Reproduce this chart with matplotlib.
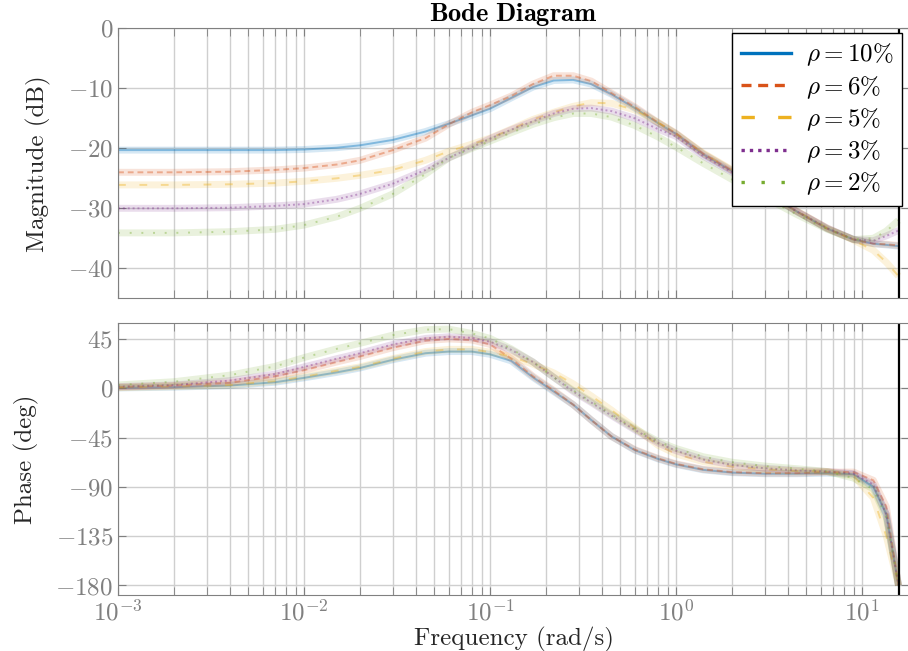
import numpy as np
import matplotlib
matplotlib.use("Agg")
import matplotlib.pyplot as plt
from matplotlib.lines import Line2D

plt.rcParams['font.family'] = 'serif'
plt.rcParams['font.serif'] = ['cmr10', 'DejaVu Serif']
plt.rcParams['mathtext.fontset'] = 'cm'
plt.rcParams['axes.formatter.use_mathtext'] = True

# frequency grid (rad/s)
freq = [0.001, 0.002, 0.004, 0.007, 0.01, 0.015, 0.02, 0.03, 0.045, 0.06,
        0.08, 0.1, 0.13, 0.17, 0.22, 0.28, 0.35, 0.45, 0.6, 0.8,
        1.0, 1.4, 2.0, 3.0, 4.5, 6.5, 9.0, 11.5, 13.5, 15.7]

labels = [r'$\rho = 10\%$', r'$\rho = 6\%$', r'$\rho = 5\%$', r'$\rho = 3\%$', r'$\rho = 2\%$']

# magnitude (dB)
mag_10 = [-20.3, -20.3, -20.3, -20.3, -20.2, -19.9, -19.5, -18.6, -17.2, -15.9,
          -14.5, -13.4, -11.6, -9.8, -8.7, -8.6, -9.3, -11.0, -13.3, -15.8,
          -17.6, -21.0, -23.8, -27.3, -30.6, -33.4, -35.2, -35.9, -36.1, -36.3]
mag_6 = [-24.0, -24.0, -23.9, -23.6, -23.3, -22.7, -22.0, -20.3, -18.3, -16.0,
         -14.0, -12.8, -11.3, -9.3, -7.9, -7.9, -8.8, -10.8, -13.1, -15.7,
         -17.5, -20.9, -23.7, -27.3, -30.6, -33.4, -35.2, -35.9, -36.0, -36.2]
mag_5 = [-26.1, -26.1, -26.0, -25.8, -25.5, -25.0, -24.5, -23.6, -22.0, -20.5,
         -19.3, -18.3, -16.8, -15.2, -14.0, -13.0, -12.4, -12.5, -13.6, -15.7,
         -17.6, -20.8, -23.6, -27.2, -30.5, -33.3, -35.3, -37.0, -39.0, -41.3]
mag_3 = [-30.0, -30.0, -29.9, -29.6, -29.3, -28.5, -27.6, -25.9, -23.6, -21.6,
         -19.8, -18.4, -16.9, -15.5, -14.2, -13.4, -13.3, -13.8, -15.0, -16.8,
         -18.0, -21.3, -24.0, -27.4, -30.6, -33.3, -35.2, -35.4, -34.6, -33.7]
mag_2 = [-34.1, -34.1, -33.9, -33.5, -32.8, -31.4, -30.0, -27.6, -24.3, -21.6,
         -20.0, -18.8, -17.4, -16.0, -14.9, -14.2, -14.2, -14.8, -16.2, -18.1,
         -19.8, -22.5, -25.2, -28.2, -31.1, -33.5, -35.2, -35.0, -33.8, -32.0]

# phase (deg)
ph_10 = [0.3, 1.0, 2.5, 5.5, 9.5, 14.5, 18.5, 26.0, 32.0, 33.5,
         33.5, 31.0, 25.0, 10.0, -3.0, -15.0, -29.0, -44.0, -56.5, -64.5,
         -69.5, -74.5, -77.0, -78.0, -78.0, -77.5, -78.5, -90.0, -115.0, -180.0]
ph_6 = [1.0, 2.5, 5.0, 11.0, 16.5, 24.0, 29.0, 37.0, 43.5, 45.0,
        44.0, 40.0, 27.0, 11.0, -2.0, -15.0, -29.0, -44.0, -56.0, -64.0,
        -69.0, -74.0, -76.5, -77.5, -77.5, -76.5, -76.5, -84.0, -108.0, -180.0]
ph_5 = [0.5, 1.5, 3.0, 6.5, 10.5, 16.0, 19.5, 27.0, 33.5, 35.5,
        35.5, 33.0, 29.0, 22.0, 14.0, 4.0, -7.0, -20.0, -36.0, -52.0,
        -60.0, -67.0, -71.5, -74.0, -75.5, -76.0, -80.0, -100.0, -135.0, -180.0]
ph_3 = [1.5, 3.0, 7.0, 13.0, 19.5, 27.0, 32.0, 40.0, 45.5, 47.0,
        46.0, 42.5, 35.0, 24.0, 10.0, -3.0, -13.0, -25.0, -38.0, -50.0,
        -57.0, -65.0, -70.0, -73.0, -75.0, -76.0, -78.0, -88.0, -115.0, -180.0]
ph_2 = [3.0, 6.0, 12.0, 20.0, 28.0, 36.0, 41.0, 48.5, 53.5, 54.0,
        50.0, 45.5, 36.0, 24.0, 10.0, -2.0, -12.0, -24.0, -37.0, -48.5,
        -55.0, -62.5, -67.5, -71.0, -73.5, -76.0, -82.0, -92.0, -118.0, -180.0]

mags = [mag_10, mag_6, mag_5, mag_3, mag_2]
phases = [ph_10, ph_6, ph_5, ph_3, ph_2]
colors = ['#0072BD', '#D95319', '#EDB120', '#7E2F8E', '#77AC30']
styles = ['-', (0, (3, 2)), (0, (4, 7)), (0, (1, 1.5)), (0, (1, 5))]
nyquist = 15.708

fig = plt.figure(figsize=(9.08, 6.51), dpi=100)
ax1 = fig.add_axes([0.13, 0.5418, 0.8712, 0.4147])
ax2 = fig.add_axes([0.13, 0.086, 0.8712, 0.4174])

for ax, data in [(ax1, mags), (ax2, phases)]:
    for y, c, ls in zip(data, colors, styles):
        ax.plot(freq, y, color=c, lw=5, alpha=0.16, solid_capstyle='butt')
        ax.plot(freq, y, color=c, lw=1.4, ls=ls, alpha=0.4)
    ax.axvline(nyquist, color='k', lw=1.6)
    ax.set_xscale('log')
    ax.set_xlim(1e-3, 17.9)
    ax.grid(True, which='major', color='#cfcfcf', lw=1)
    ax.grid(True, which='minor', axis='x', color='#cfcfcf', lw=1)
    ax.set_axisbelow(True)
    ax.tick_params(which='both', direction='in', top=True, right=True,
                   length=6, color='#808080', labelcolor='#808080', labelsize=18)
    for s in ax.spines.values():
        s.set_color('#808080')

ax1.set_ylim(-45, 0)
ax1.set_yticks([0, -10, -20, -30, -40])
ax1.tick_params(labelbottom=False)
ax1.set_ylabel('Magnitude (dB)', fontsize=18, color='#262626', labelpad=12)
ax1.set_title(r'$\mathbf{Bode\ Diagram}$', fontsize=19, pad=3)

ax2.set_ylim(-188.7, 59.3)
ax2.set_yticks([45, 0, -45, -90, -135, -180])
ax2.set_ylabel('Phase (deg)', fontsize=18, color='#262626', labelpad=12)
ax2.set_xlabel('Frequency (rad/s)', fontsize=18, color='#262626', labelpad=1)

handles = [Line2D([], [], color=c, ls=ls, lw=2.4) for c, ls in zip(colors, styles)]
leg = ax1.legend(handles, labels, loc='upper right', bbox_to_anchor=(0.991, 0.983),
                 fontsize=18, fancybox=False, framealpha=1, edgecolor='k',
                 borderaxespad=0, labelspacing=0.22, handlelength=2.0,
                 handletextpad=0.6, borderpad=0.35)
leg.get_frame().set_linewidth(1.0)

fig.savefig('out.png', dpi=100)
